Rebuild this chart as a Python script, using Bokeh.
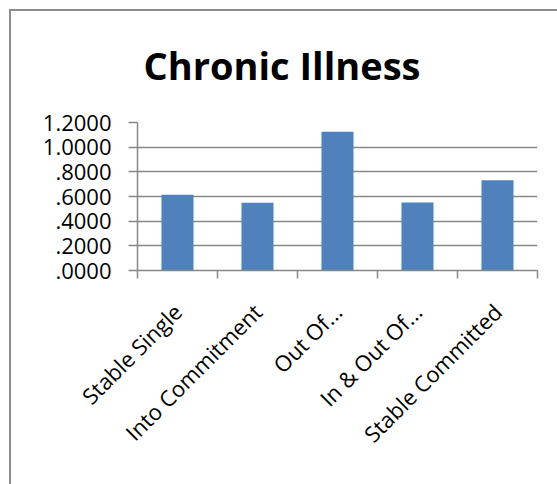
from bokeh.plotting import figure
from bokeh.models import Range1d, FixedTicker, Title
from bokeh.embed import file_html
from bokeh.resources import INLINE
import math

# Chart data
categories = ["Stable Single", "Into Commitment", "Out Of...", "In & Out Of...", "Stable Committed"]
values = [0.615, 0.550, 1.124, 0.552, 0.731]
y_ticks = [0.0, 0.2, 0.4, 0.6, 0.8, 1.0, 1.2]
y_tick_labels = [".0000", ".2000", ".4000", ".6000", ".8000", "1.0000", "1.2000"]

FONT = "Open Sans"
GRID = "#878787"
BAR = "#4f81bd"
EDGE = "#8c8c8c"

n = len(categories)
centers = [i + 0.5 for i in range(n)]

p = figure(
    width=557, height=484,
    x_range=Range1d(0, n), y_range=Range1d(0, 1.2),
    output_backend="svg", toolbar_location=None, tools="",
    min_border_left=137, min_border_right=20,
    min_border_top=122, min_border_bottom=214,
)
p.outline_line_color = None
p.background_fill_color = "white"
p.border_fill_color = None

# chart-area edge along the top and left, drawn behind the transparent canvas border
p.styles = {
    "background": (
        f"linear-gradient({EDGE}, {EDGE}) 9px 9px / 548px 2px no-repeat, "
        f"linear-gradient({EDGE}, {EDGE}) 9px 9px / 2px 475px no-repeat, white"
    )
}

p.vbar(x=centers, top=values, width=0.4, fill_color=BAR, line_color=None)

# y axis
p.yaxis.ticker = FixedTicker(ticks=y_ticks)
p.yaxis.major_label_overrides = {t: s for t, s in zip(y_ticks, y_tick_labels)}
p.yaxis.axis_line_color = GRID
p.yaxis.axis_line_width = 1.5
p.yaxis.major_tick_line_color = GRID
p.yaxis.major_tick_line_width = 1.5
p.yaxis.major_tick_out = 9
p.yaxis.major_tick_in = 0
p.yaxis.minor_tick_line_color = None
p.yaxis.major_label_standoff = 17
p.yaxis.major_label_text_font = FONT
p.yaxis.major_label_text_font_size = "22px"
p.yaxis.major_label_text_color = "black"

# x axis: labels at category centers, tick marks at category boundaries
p.xaxis.ticker = FixedTicker(ticks=centers, minor_ticks=list(range(n + 1)))
p.xaxis.major_label_overrides = {c: lab for c, lab in zip(centers, categories)}
p.xaxis.major_label_orientation = math.pi / 4
p.xaxis.axis_line_color = GRID
p.xaxis.axis_line_width = 1.5
p.xaxis.major_tick_line_color = None
p.xaxis.major_tick_out = 0
p.xaxis.major_tick_in = 0
p.xaxis.minor_tick_line_color = GRID
p.xaxis.minor_tick_line_width = 1.5
p.xaxis.minor_tick_out = 8
p.xaxis.minor_tick_in = 0
p.xaxis.major_label_standoff = 29
p.xaxis.major_label_text_font = FONT
p.xaxis.major_label_text_font_size = "22px"
p.xaxis.major_label_text_color = "black"

# horizontal gridlines only
p.xgrid.grid_line_color = None
p.ygrid.ticker = FixedTicker(ticks=y_ticks)
p.ygrid.grid_line_color = GRID
p.ygrid.grid_line_width = 1.5

# title
p.title = Title(
    text="Chronic Illness", align="left", offset=6, standoff=63,
    text_font=FONT, text_font_size="38px", text_font_style="bold",
    text_color="black",
)

open("out.html", "w").write(file_html(p, INLINE))
